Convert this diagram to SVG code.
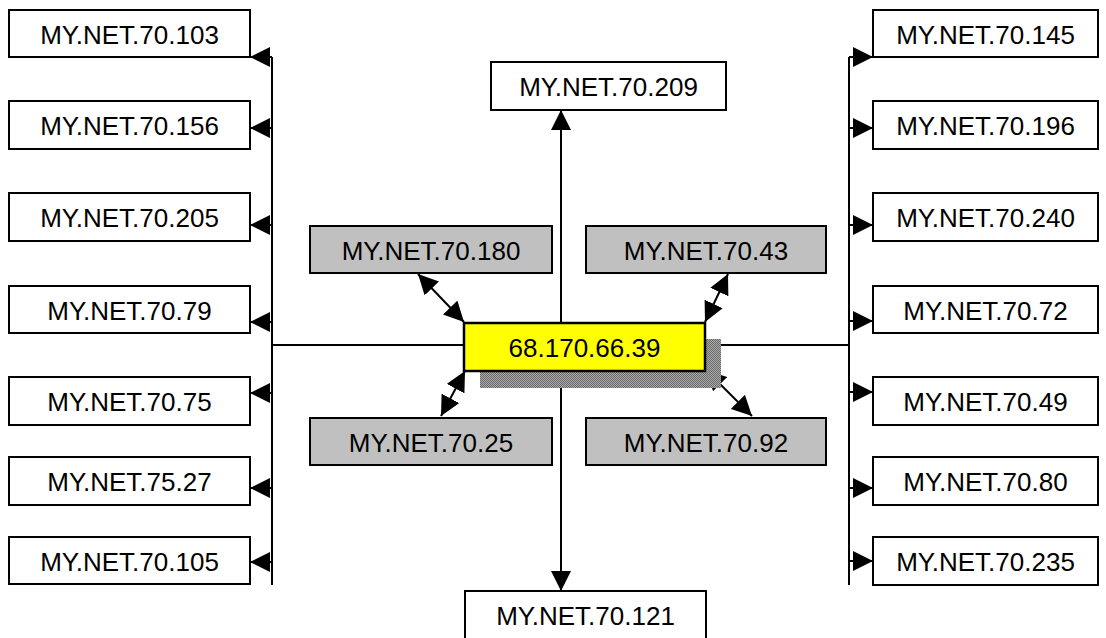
<svg xmlns="http://www.w3.org/2000/svg" width="1106" height="638" viewBox="0 0 1106 638">
<style>
.box{fill:#fff;stroke:#000;stroke-width:2}
.gbox{fill:#c0c0c0;stroke:#000;stroke-width:2}
.ybox{fill:#ffff00;stroke:#000;stroke-width:2.5}
.t{font-family:"Liberation Sans",Arial,sans-serif;font-size:26px;fill:#000;text-anchor:middle}
.ln{stroke:#000;stroke-width:2;fill:none}
.ar{stroke:#000;stroke-width:2;fill:none;marker-end:url(#ah)}
.dar{stroke:#000;stroke-width:2;fill:none;marker-start:url(#ah);marker-end:url(#ah)}
</style>
<defs>
<marker id="ah" viewBox="0 0 20 20" refX="20" refY="10" markerWidth="20" markerHeight="20" markerUnits="userSpaceOnUse" orient="auto-start-reverse">
<path d="M0,0 L20,10 L0,20 z" fill="#000"/>
</marker>
<pattern id="dither" width="2" height="2" patternUnits="userSpaceOnUse">
<rect width="2" height="2" fill="#a8a8a8"/>
<rect width="1" height="1" fill="#6c6c6c"/>
<rect x="1" y="1" width="1" height="1" fill="#6c6c6c"/>
</pattern>
</defs>

<g id="connectors">
<line class="ln" x1="272" y1="57" x2="272" y2="585"/>
<line class="ln" x1="849" y1="57" x2="849" y2="585"/>
<line class="ln" x1="272" y1="345" x2="849" y2="345"/>
<line class="ar" x1="272" y1="57" x2="250" y2="57"/>
<line class="ar" x1="272" y1="128" x2="250" y2="128"/>
<line class="ar" x1="272" y1="225" x2="250" y2="225"/>
<line class="ar" x1="272" y1="322" x2="250" y2="322"/>
<line class="ar" x1="272" y1="393" x2="250" y2="393"/>
<line class="ar" x1="272" y1="488" x2="250" y2="488"/>
<line class="ar" x1="272" y1="562" x2="250" y2="562"/>
<line class="ar" x1="849" y1="57" x2="873" y2="57"/>
<line class="ar" x1="849" y1="128" x2="873" y2="128"/>
<line class="ar" x1="849" y1="225" x2="873" y2="225"/>
<line class="ar" x1="849" y1="321" x2="873" y2="321"/>
<line class="ar" x1="849" y1="392" x2="873" y2="392"/>
<line class="ar" x1="849" y1="488" x2="873" y2="488"/>
<line class="ar" x1="849" y1="561" x2="873" y2="561"/>
<line class="ar" x1="561" y1="347" x2="561" y2="110"/>
<line class="ar" x1="561" y1="347" x2="561" y2="591"/>
<line class="dar" x1="418" y1="274" x2="464" y2="322"/>
<line class="dar" x1="728" y1="274" x2="705" y2="322"/>
<line class="dar" x1="465" y1="371" x2="441" y2="416"/>
<line class="dar" x1="706" y1="370" x2="752" y2="416"/>
</g>

<g id="n-103"><rect class="box" x="9" y="10" width="241" height="47"/><text class="t" x="129.5" y="43.5">MY.NET.70.103</text></g>
<g id="n-156"><rect class="box" x="9" y="101" width="241" height="48"/><text class="t" x="129.5" y="135">MY.NET.70.156</text></g>
<g id="n-205"><rect class="box" x="9" y="193" width="241" height="48"/><text class="t" x="129.5" y="227">MY.NET.70.205</text></g>
<g id="n-79"><rect class="box" x="9" y="286" width="241" height="47"/><text class="t" x="129.5" y="319.5">MY.NET.70.79</text></g>
<g id="n-75"><rect class="box" x="9" y="377" width="241" height="48"/><text class="t" x="129.5" y="411">MY.NET.70.75</text></g>
<g id="n-7527"><rect class="box" x="9" y="457" width="241" height="48"/><text class="t" x="129.5" y="491">MY.NET.75.27</text></g>
<g id="n-105"><rect class="box" x="9" y="537" width="241" height="47"/><text class="t" x="129.5" y="570.5">MY.NET.70.105</text></g>

<g id="n-145"><rect class="box" x="873" y="10" width="225" height="47"/><text class="t" x="985.5" y="43.5">MY.NET.70.145</text></g>
<g id="n-196"><rect class="box" x="873" y="101" width="225" height="48"/><text class="t" x="985.5" y="135">MY.NET.70.196</text></g>
<g id="n-240"><rect class="box" x="873" y="193" width="225" height="48"/><text class="t" x="985.5" y="227">MY.NET.70.240</text></g>
<g id="n-72"><rect class="box" x="873" y="286" width="225" height="47"/><text class="t" x="985.5" y="319.5">MY.NET.70.72</text></g>
<g id="n-49"><rect class="box" x="873" y="377" width="225" height="48"/><text class="t" x="985.5" y="411">MY.NET.70.49</text></g>
<g id="n-80"><rect class="box" x="873" y="457" width="225" height="48"/><text class="t" x="985.5" y="491">MY.NET.70.80</text></g>
<g id="n-235"><rect class="box" x="873" y="537" width="225" height="48"/><text class="t" x="985.5" y="571">MY.NET.70.235</text></g>

<g id="n-209"><rect class="box" x="491" y="62" width="235" height="48"/><text class="t" x="608.5" y="96">MY.NET.70.209</text></g>
<g id="n-121"><rect class="box" x="465" y="591" width="241" height="48"/><text class="t" x="585.5" y="625">MY.NET.70.121</text></g>

<g id="n-180"><rect class="gbox" x="310" y="226" width="242" height="47"/><text class="t" x="431" y="259.5">MY.NET.70.180</text></g>
<g id="n-43"><rect class="gbox" x="586" y="226" width="240" height="47"/><text class="t" x="706" y="259.5">MY.NET.70.43</text></g>
<g id="n-25"><rect class="gbox" x="310" y="418" width="242" height="47"/><text class="t" x="431" y="451.5">MY.NET.70.25</text></g>
<g id="n-92"><rect class="gbox" x="586" y="418" width="240" height="47"/><text class="t" x="706" y="451.5">MY.NET.70.92</text></g>

<g id="n-center">
<rect x="480" y="339" width="241" height="49" fill="url(#dither)"/>
<rect class="ybox" x="464" y="323" width="241" height="48"/>
<text class="t" x="584.5" y="357">68.170.66.39</text>
</g>
</svg>
